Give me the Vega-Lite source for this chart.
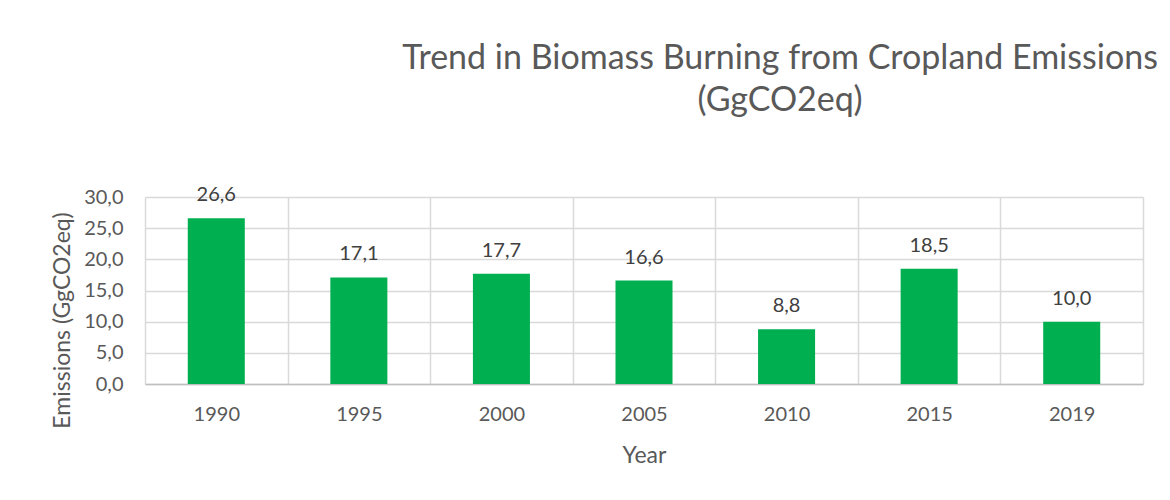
{
  "$schema": "https://vega.github.io/schema/vega-lite/v6.json",
  "autosize": "none",
  "padding": {"left": 145, "top": 197, "right": 27, "bottom": 116},
  "width": 998,
  "height": 187,
  "background": "white",
  "config": {
    "locale": {"number": {"decimal": ",", "thousands": ".", "grouping": [3], "currency": ["", " €"]}},
    "view": {"stroke": null},
    "font": "Lato"
  },
  "title": {
    "text": ["Trend in Biomass Burning from Cropland Emissions", "(GgCO2eq)"],
    "anchor": "middle",
    "frame": "group",
    "dx": 136,
    "fontSize": 34,
    "fontWeight": "normal",
    "font": "Lato",
    "color": "#595959",
    "lineHeight": 42,
    "offset": 67
  },
  "data": {
    "values": [
      {"Year": "1990", "Emissions": 26.6},
      {"Year": "1995", "Emissions": 17.1},
      {"Year": "2000", "Emissions": 17.7},
      {"Year": "2005", "Emissions": 16.6},
      {"Year": "2010", "Emissions": 8.8},
      {"Year": "2015", "Emissions": 18.5},
      {"Year": "2019", "Emissions": 10.0}
    ]
  },
  "encoding": {
    "x": {
      "field": "Year",
      "type": "nominal",
      "sort": null,
      "scale": {"paddingInner": 0, "paddingOuter": 0},
      "axis": {
        "title": "Year",
        "labelAngle": 0,
        "labelFontSize": 20,
        "labelColor": "#595959",
        "labelPadding": 20,
        "ticks": false,
        "grid": true,
        "gridColor": "#D9D9D9",
        "gridWidth": 1.5,
        "tickBand": "extent",
        "domainColor": "#BFBFBF",
        "domainWidth": 1.5,
        "titleFontSize": 23,
        "titleFontWeight": "normal",
        "titleColor": "#595959",
        "titleY": 71,
        "titleBaseline": "middle"
      }
    },
    "y": {
      "field": "Emissions",
      "type": "quantitative",
      "scale": {"domain": [0, 30], "nice": false},
      "axis": {
        "title": "Emissions (GgCO2eq)",
        "values": [0, 5, 10, 15, 20, 25, 30],
        "format": ".1f",
        "labelFontSize": 20,
        "labelColor": "#595959",
        "labelPadding": 22,
        "ticks": false,
        "domain": false,
        "grid": true,
        "gridColor": "#D9D9D9",
        "gridWidth": 1.5,
        "titleFontSize": 23,
        "titleFontWeight": "normal",
        "titleColor": "#595959",
        "titleAngle": -90,
        "titleX": -83,
        "titleY": 123,
        "titleAlign": "center",
        "titleBaseline": "middle"
      }
    }
  },
  "layer": [
    {"mark": {"type": "bar", "color": "#00B050", "width": {"band": 0.4}}},
    {
      "mark": {"type": "text", "baseline": "alphabetic", "dy": -17, "fontSize": 20, "color": "#404040"},
      "encoding": {"text": {"field": "Emissions", "type": "quantitative", "format": ".1f"}}
    }
  ]
}
